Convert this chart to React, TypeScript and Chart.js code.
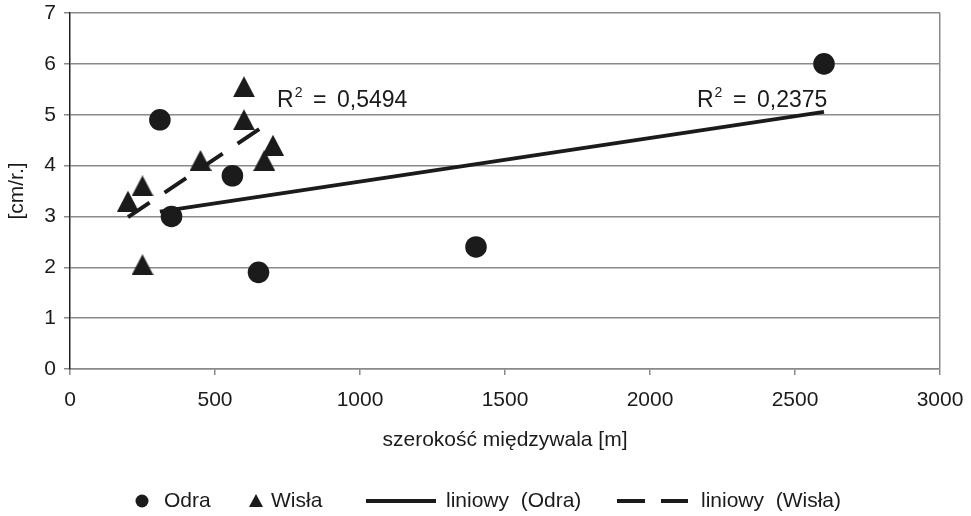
import React, { useEffect, useRef } from "react";
import { Chart, registerables } from "chart.js";

Chart.register(...registerables);

// ---- data ----
const odraX = [310, 350, 560, 650, 1400, 2600];
const odraY = [4.9, 3.0, 3.8, 1.9, 2.4, 6.0];
const wislaX = [200, 250, 250, 450, 600, 600, 670, 700];
const wislaY = [3.3, 3.6, 2.05, 4.1, 5.55, 4.9, 4.1, 4.4];
const xTicks = [0, 500, 1000, 1500, 2000, 2500, 3000];
const yTicks = [0, 1, 2, 3, 4, 5, 6, 7];
const seriesNames = ["Odra", "Wisła", "liniowy (Odra)", "liniowy (Wisła)"];
const r2Labels = ["0,2375", "0,5494"];
const xTitle = "szerokość międzywala [m]";
const yTitle = "[cm/r.]";

const FONT = '"Liberation Sans", Arial, sans-serif';
const INK = "#1b1b1b";
const GRID = "#8a8a8a";

function fit(xs: number[], ys: number[]) {
  const n = xs.length;
  const mx = xs.reduce((a, b) => a + b, 0) / n;
  const my = ys.reduce((a, b) => a + b, 0) / n;
  let sxy = 0, sxx = 0;
  for (let i = 0; i < n; i++) {
    sxy += (xs[i] - mx) * (ys[i] - my);
    sxx += (xs[i] - mx) * (xs[i] - mx);
  }
  const b = sxy / sxx;
  const a = my - b * mx;
  const x0 = Math.min(...xs), x1 = Math.max(...xs);
  return [{ x: x0, y: a + b * x0 }, { x: x1, y: a + b * x1 }];
}

function makeTriangle(w: number, h: number) {
  const c = document.createElement("canvas");
  c.width = w;
  c.height = h;
  const g = c.getContext("2d")!;
  g.fillStyle = INK;
  g.beginPath();
  g.moveTo(w / 2, 0);
  g.lineTo(w, h);
  g.lineTo(0, h);
  g.closePath();
  g.fill();
  return c;
}

const overlayPlugin = {
  id: "overlay",
  afterDraw(chart: any) {
    const { ctx, scales } = chart;
    const sx = scales.x, sy = scales.y;
    ctx.save();
    ctx.fillStyle = INK;
    ctx.textBaseline = "alphabetic";
    ctx.textAlign = "left";

    // R² labels
    const drawR2 = (px: number, py: number, val: string) => {
      ctx.font = `23px ${FONT}`;
      ctx.fillText("R", px, py);
      const rw = ctx.measureText("R").width;
      ctx.font = `14px ${FONT}`;
      ctx.fillText("2", px + rw + 1, py - 10);
      ctx.font = `23px ${FONT}`;
      ctx.fillText("=", px + 36, py);
      ctx.fillText(val, px + 60, py);
    };
    drawR2(sx.getPixelForValue(714), sy.getPixelForValue(5.15), r2Labels[1]);
    drawR2(sx.getPixelForValue(2162), sy.getPixelForValue(5.15), r2Labels[0]);

    // legend
    const ly = 501;
    ctx.font = `21px ${FONT}`;
    ctx.textBaseline = "middle";
    ctx.beginPath();
    ctx.arc(142, ly, 6.5, 0, Math.PI * 2);
    ctx.fill();
    ctx.fillText(seriesNames[0], 164, ly);
    ctx.beginPath();
    ctx.moveTo(256, ly - 7);
    ctx.lineTo(263, ly + 6);
    ctx.lineTo(249, ly + 6);
    ctx.closePath();
    ctx.fill();
    ctx.fillText(seriesNames[1], 271, ly);
    ctx.strokeStyle = INK;
    ctx.lineWidth = 4;
    ctx.beginPath();
    ctx.moveTo(366, ly);
    ctx.lineTo(436, ly);
    ctx.stroke();
    ctx.fillText("liniowy  (Odra)", 446, ly);
    ctx.beginPath();
    ctx.moveTo(617, ly);
    ctx.lineTo(645, ly);
    ctx.moveTo(661, ly);
    ctx.lineTo(688, ly);
    ctx.stroke();
    ctx.fillText("liniowy  (Wisła)", 701, ly);
    ctx.restore();
  },
};

export default function App() {
  const ref = useRef<HTMLCanvasElement>(null);
  useEffect(() => {
    document.body.style.margin = "0";
    const tri = makeTriangle(22, 21);
    const chart = new Chart(ref.current!, {
      type: "scatter",
      data: {
        datasets: [
          {
            label: seriesNames[2],
            type: "line",
            data: fit(odraX, odraY),
            borderColor: INK,
            borderWidth: 4,
            pointRadius: 0,
            fill: false,
          },
          {
            label: seriesNames[3],
            type: "line",
            data: fit(wislaX, wislaY),
            borderColor: INK,
            borderWidth: 4,
            borderDash: [26, 18],
            pointRadius: 0,
            fill: false,
          },
          {
            label: seriesNames[0],
            data: odraX.map((x, i) => ({ x, y: odraY[i] })),
            backgroundColor: INK,
            borderWidth: 0,
            pointRadius: 10.8,
            pointStyle: "circle",
          },
          {
            label: seriesNames[1],
            data: wislaX.map((x, i) => ({ x, y: wislaY[i] })),
            backgroundColor: INK,
            borderWidth: 0,
            pointRadius: 11,
            pointStyle: tri as any,
          },
        ],
      },
      options: {
        animation: false,
        responsive: false,
        layout: { padding: { left: 0, top: 13, right: 31, bottom: 60 } },
        plugins: { legend: { display: false }, tooltip: { enabled: false } },
        scales: {
          x: {
            type: "linear",
            min: 0,
            max: 3000,
            afterBuildTicks: (s: any) => {
              s.ticks = xTicks.map((v) => ({ value: v }));
            },
            afterFit: (s: any) => {
              s.height = 87;
              s.paddingLeft = 0;
              s.paddingRight = 0;
            },
            ticks: {
              font: { family: FONT, size: 21 },
              color: INK,
              padding: 13,
              maxRotation: 0,
              callback: (v: any) => String(v),
            },
            grid: {
              color: (c: any) => (c.tick && c.tick.value === 3000 ? GRID : "transparent"),
              tickColor: GRID,
              tickLength: 6,
              lineWidth: 1.5,
            },
            border: { color: GRID, width: 1.5 },
            title: {
              display: true,
              text: xTitle,
              font: { family: FONT, size: 21 },
              color: INK,
              padding: { top: 0, bottom: 3 },
            },
          },
          y: {
            type: "linear",
            min: 0,
            max: 7,
            afterBuildTicks: (s: any) => {
              s.ticks = yTicks.map((v) => ({ value: v }));
            },
            afterFit: (s: any) => {
              s.width = 70;
              s.paddingTop = 0;
              s.paddingBottom = 0;
            },
            ticks: {
              font: { family: FONT, size: 21 },
              color: INK,
              padding: 8,
              callback: (v: any) => String(v),
            },
            grid: {
              color: GRID,
              tickColor: GRID,
              tickLength: 6,
              lineWidth: 1.5,
            },
            border: { color: "#222", width: 1.5 },
            title: {
              display: true,
              text: yTitle,
              font: { family: FONT, size: 21 },
              color: INK,
              padding: { top: 5, bottom: 0 },
            },
          },
        },
      },
      plugins: [overlayPlugin],
    });
    return () => chart.destroy();
  }, []);
  return (
    <div style={{ width: 971, height: 516, background: "#fff" }}>
      <canvas ref={ref} width={971} height={516} style={{ display: "block" }} />
    </div>
  );
}
